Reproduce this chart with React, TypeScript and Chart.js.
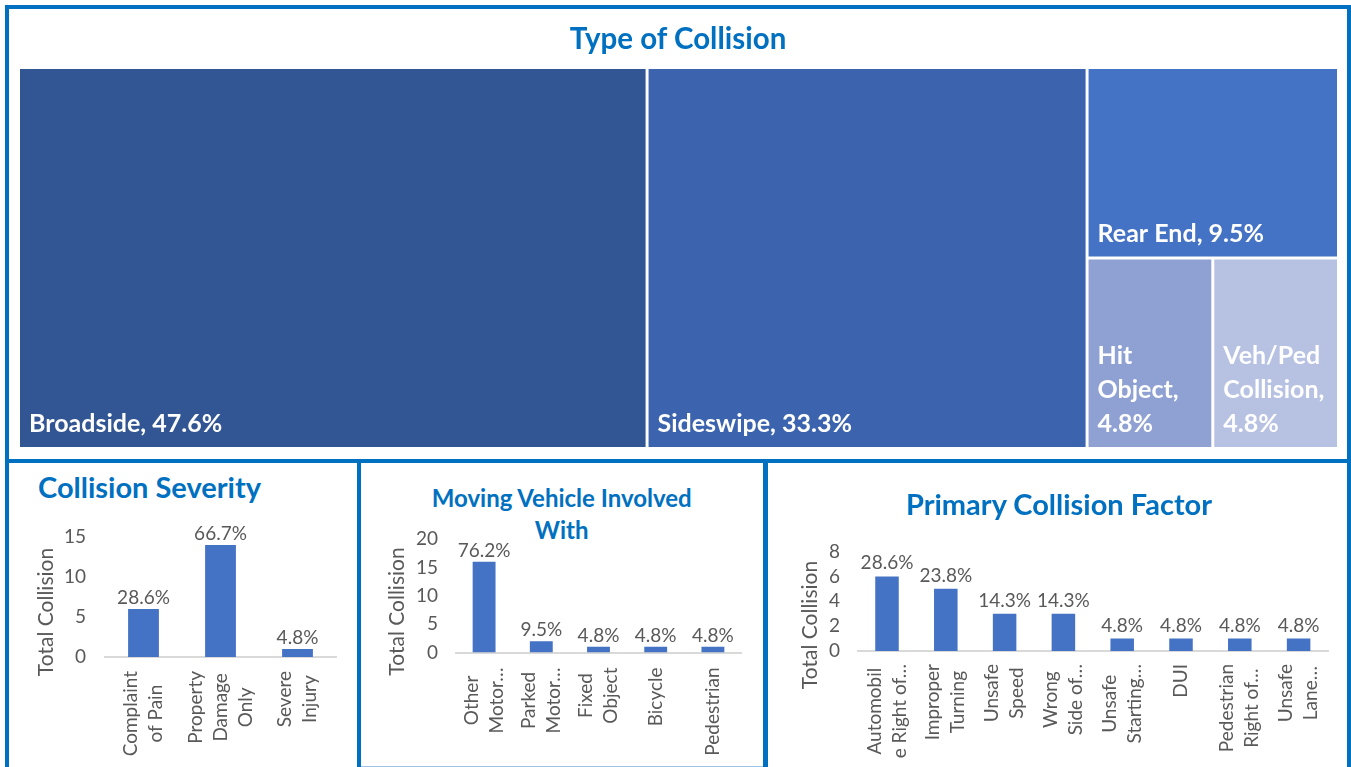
import React, { useEffect, useRef } from "react";
import { Chart, registerables } from "chart.js";

Chart.register(...registerables);

const FONT = "Lato, 'Open Sans', sans-serif";
const TITLE_BLUE = "#0070C0";
const GRAY = "#595959";
const BAR_BLUE = "#4472C4";

// ---------- Data ----------
const collisionTypes = ["Broadside", "Sideswipe", "Rear End", "Hit Object", "Veh/Ped Collision"];
const collisionTypeCounts = [10, 7, 2, 1, 1];
const collisionTypeColors = ["#325593", "#3C63AD", "#4472C4", "#8FA1D2", "#B7C1E2"];

const severityLabels = [["Complaint", "of Pain"], ["Property", "Damage", "Only"], ["Severe", "Injury"]];
const severityCounts = [6, 14, 1];

const movingLabels = [["Other", "Motor…"], ["Parked", "Motor…"], ["Fixed", "Object"], ["Bicycle"], ["Pedestrian"]];
const movingCounts = [16, 2, 1, 1, 1];

const factorLabels = [
  ["Automobil", "e Right of…"],
  ["Improper", "Turning"],
  ["Unsafe", "Speed"],
  ["Wrong", "Side of…"],
  ["Unsafe", "Starting…"],
  ["DUI"],
  ["Pedestrian", "Right of…"],
  ["Unsafe", "Lane…"],
];
const factorCounts = [6, 5, 3, 3, 1, 1, 1, 1];

// ---------- Helpers ----------
function sum(a: number[]) {
  return a.reduce((s, v) => s + v, 0);
}

type R = { x: number; y: number; w: number; h: number };

function worst(row: number[], side: number) {
  const s = sum(row);
  const mx = Math.max(...row);
  const mn = Math.min(...row);
  return Math.max((side * side * mx) / (s * s), (s * s) / (side * side * mn));
}

function squarify(areas: number[], rect: R): R[] {
  const out: R[] = [];
  let r = { ...rect };
  let i = 0;
  while (i < areas.length) {
    const side = Math.min(r.w, r.h);
    const row = [areas[i]];
    let j = i + 1;
    while (j < areas.length && worst([...row, areas[j]], side) <= worst(row, side)) {
      row.push(areas[j]);
      j++;
    }
    const s = sum(row);
    if (r.w >= r.h) {
      const cw = s / r.h;
      let y = r.y;
      for (const a of row) {
        const h = a / cw;
        out.push({ x: r.x, y, w: cw, h });
        y += h;
      }
      r = { x: r.x + cw, y: r.y, w: r.w - cw, h: r.h };
    } else {
      const rh = s / r.w;
      let x = r.x;
      for (const a of row) {
        const w = a / rh;
        out.push({ x, y: r.y, w, h: rh });
        x += w;
      }
      r = { x: r.x, y: r.y + rh, w: r.w, h: r.h - rh };
    }
    i = j;
  }
  return out;
}

function wrapText(ctx: CanvasRenderingContext2D, text: string, maxW: number): string[] {
  const words = text.split(" ");
  const lines: string[] = [];
  let cur = "";
  for (const w of words) {
    const t = cur ? cur + " " + w : w;
    if (cur && ctx.measureText(t).width > maxW) {
      lines.push(cur);
      cur = w;
    } else cur = t;
  }
  if (cur) lines.push(cur);
  return lines;
}

// ---------- Treemap ----------
const treemapPlugin = {
  id: "treemapCells",
  afterDraw(chart: any) {
    const { ctx, chartArea, scales } = chart;
    const aspect = chartArea.width / chartArea.height;
    const total = sum(collisionTypeCounts);
    const areas = collisionTypeCounts.map((v) => (v / total) * aspect);
    const rects = squarify(areas, { x: 0, y: 0, w: aspect, h: 1 });
    const GAP = 1.5;
    ctx.save();
    rects.forEach((r, i) => {
      const x0 = scales.x.getPixelForValue(r.x / aspect) + GAP;
      const x1 = scales.x.getPixelForValue((r.x + r.w) / aspect) - GAP;
      const y0 = scales.y.getPixelForValue(r.y) + GAP;
      const y1 = scales.y.getPixelForValue(r.y + r.h) - GAP;
      ctx.fillStyle = collisionTypeColors[i];
      ctx.fillRect(x0, y0, x1 - x0, y1 - y0);
      const pct = ((collisionTypeCounts[i] / total) * 100).toFixed(1);
      const text = `${collisionTypes[i]}, ${pct}%`;
      ctx.font = `bold 25px ${FONT}`;
      ctx.fillStyle = "#FFFFFF";
      ctx.textAlign = "left";
      ctx.textBaseline = "alphabetic";
      const lines = wrapText(ctx, text, x1 - x0 - 19);
      const LH = 34;
      lines.forEach((l, k) => {
        const by = y1 - 15 - (lines.length - 1 - k) * LH;
        ctx.fillText(l, x0 + 9, by);
      });
    });
    ctx.restore();
  },
};

function Treemap() {
  const ref = useRef<HTMLCanvasElement>(null);
  useEffect(() => {
    const chart = new Chart(ref.current as HTMLCanvasElement, {
      type: "scatter",
      data: { datasets: [{ data: [] }] },
      options: {
        animation: false,
        responsive: false,
        events: [],
        layout: { padding: { left: 9.5, right: 8.5, top: 58.5, bottom: 10.5 } },
        plugins: { legend: { display: false }, tooltip: { enabled: false } },
        scales: {
          x: { type: "linear", min: 0, max: 1, display: false },
          y: { type: "linear", min: 0, max: 1, reverse: true, display: false },
        },
      },
      plugins: [treemapPlugin],
    } as any);
    return () => chart.destroy();
  }, []);
  return (
    <canvas
      ref={ref}
      width={1338}
      height={450}
      style={{ position: "absolute", left: 9, top: 9, width: 1338, height: 450 }}
    />
  );
}

// ---------- Bar panels ----------
type BarProps = {
  labels: string[][];
  counts: number[];
  yMax: number;
  yStep: number;
  box: { left: number; top: number; width: number; height: number };
  yW: number;
  padTop: number;
  padRight: number;
  xH: number;
  tickPad: number;
  titleDx: number;
  titleDy: number;
  labelGap: number;
  valueGap: number;
};

function BarPanel(p: BarProps) {
  const ref = useRef<HTMLCanvasElement>(null);
  useEffect(() => {
    const total = sum(p.counts);
    const LINE = 25;
    const labelPlugin = {
      id: "barTexts",
      afterDatasetsDraw(chart: any) {
        const { ctx, chartArea, scales } = chart;
        const meta = chart.getDatasetMeta(0);
        ctx.save();
        ctx.fillStyle = GRAY;
        ctx.font = `19px ${FONT}`;
        ctx.textAlign = "center";
        ctx.textBaseline = "alphabetic";
        meta.data.forEach((el: any, i: number) => {
          ctx.fillText(`${((p.counts[i] / total) * 100).toFixed(1)}%`, el.x, el.y - p.valueGap);
        });
        ctx.font = `19px ${FONT}`;
        p.labels.forEach((lines, i) => {
          const cx = scales.x.getPixelForValue(i);
          const maxW = Math.max(...lines.map((l) => ctx.measureText(l).width));
          const cy = chartArea.bottom + p.labelGap + maxW / 2;
          lines.forEach((l, j) => {
            const lx = cx + (j - (lines.length - 1) / 2) * LINE;
            ctx.save();
            ctx.translate(lx, cy);
            ctx.rotate(-Math.PI / 2);
            ctx.textAlign = "center";
            ctx.textBaseline = "middle";
            ctx.fillText(l, 0, 0);
            ctx.restore();
          });
        });
        ctx.font = `21px ${FONT}`;
        ctx.save();
        ctx.translate(chartArea.left - p.titleDx, chartArea.bottom - p.titleDy);
        ctx.rotate(-Math.PI / 2);
        ctx.textAlign = "center";
        ctx.textBaseline = "middle";
        ctx.fillText("Total Collision", 0, 0);
        ctx.restore();
        ctx.restore();
      },
    };
    const chart = new Chart(ref.current as HTMLCanvasElement, {
      type: "bar",
      data: {
        labels: p.labels.map((l) => l.join(" ")),
        datasets: [
          {
            data: p.counts,
            backgroundColor: BAR_BLUE,
            barPercentage: 0.4,
            categoryPercentage: 1,
          },
        ],
      },
      options: {
        animation: false,
        responsive: false,
        events: [],
        layout: { padding: { top: p.padTop, right: p.padRight, left: 0, bottom: 0 } },
        plugins: { legend: { display: false }, tooltip: { enabled: false } },
        scales: {
          x: {
            grid: { display: false, drawTicks: false },
            border: { display: true, color: "#D9D9D9", width: 2 },
            ticks: { display: false },
            afterFit: (s: any) => {
              s.height = p.xH;
            },
          },
          y: {
            min: 0,
            max: p.yMax,
            ticks: {
              stepSize: p.yStep,
              autoSkip: false,
              maxTicksLimit: 30,
              color: GRAY,
              font: { family: FONT, size: 19, lineHeight: 1 },
              padding: p.tickPad,
            },
            grid: { display: false, drawTicks: false },
            border: { display: false },
            afterFit: (s: any) => {
              s.width = p.yW;
            },
          },
        },
      },
      plugins: [labelPlugin],
    } as any);
    return () => chart.destroy();
  }, []);
  const b = p.box;
  return (
    <canvas
      ref={ref}
      width={b.width}
      height={b.height}
      style={{ position: "absolute", left: b.left, top: b.top, width: b.width, height: b.height }}
    />
  );
}

// ---------- Layout pieces ----------
function Panel({ left, top, width, height }: { left: number; top: number; width: number; height: number }) {
  return (
    <div
      style={{
        position: "absolute",
        left,
        top,
        width,
        height,
        boxSizing: "border-box",
        border: `4px solid ${TITLE_BLUE}`,
      }}
    />
  );
}

function Title({
  text,
  x,
  baseline,
  fs,
  align,
}: {
  text: string;
  x: number;
  baseline: number;
  fs: number;
  align: "left" | "center";
}) {
  const top = baseline - 0.887 * fs;
  const style: React.CSSProperties = {
    position: "absolute",
    top,
    fontFamily: FONT,
    fontWeight: 700,
    fontSize: fs,
    lineHeight: `${fs}px`,
    color: TITLE_BLUE,
    whiteSpace: "nowrap",
  };
  if (align === "center") {
    style.left = x - 300;
    style.width = 600;
    style.textAlign = "center";
  } else {
    style.left = x;
  }
  return <div style={style}>{text}</div>;
}

export default function App() {
  return (
    <div
      style={{
        position: "absolute",
        left: 0,
        top: 0,
        width: 1351,
        height: 767,
        overflow: "hidden",
        background: "#FFFFFF",
      }}
    >
      <Panel left={5} top={5} width={1346} height={458} />
      <Panel left={5} top={459} width={356} height={330} />
      <Panel left={357} top={459} width={410} height={330} />
      <Panel left={764} top={459} width={587} height={330} />
      <div style={{ position: "absolute", left: 361, top: 766, width: 402, height: 1, background: "#9DC3E6" }} />

      <Treemap />
      <Title text="Type of Collision" x={678} baseline={49} fs={29.5} align="center" />

      <Title text="Collision Severity" x={38} baseline={497.7} fs={29} align="left" />
      <BarPanel
        labels={severityLabels}
        counts={severityCounts}
        yMax={15}
        yStep={5}
        box={{ left: 9, top: 463, width: 348, height: 304 }}
        yW={96}
        padTop={74}
        padRight={21}
        xH={110}
        tickPad={19}
        titleDx={59}
        titleDy={45}
        labelGap={14}
        valueGap={5}
      />

      <div
        style={{
          position: "absolute",
          left: 561.7 - 200,
          width: 400,
          top: 481.5,
          textAlign: "center",
          fontFamily: FONT,
          fontWeight: 700,
          fontSize: 24,
          lineHeight: "32px",
          color: TITLE_BLUE,
        }}
      >
        Moving Vehicle Involved
        <br />
        With
      </div>
      <BarPanel
        labels={movingLabels}
        counts={movingCounts}
        yMax={20}
        yStep={5}
        box={{ left: 361, top: 463, width: 402, height: 300 }}
        yW={94.5}
        padTop={76}
        padRight={21.5}
        xH={110.5}
        tickPad={17.5}
        titleDx={58.5}
        titleDy={41}
        labelGap={15}
        valueGap={5}
      />

      <Title text="Primary Collision Factor" x={1059} baseline={515} fs={29} align="center" />
      <BarPanel
        labels={factorLabels}
        counts={factorCounts}
        yMax={8}
        yStep={2}
        box={{ left: 768, top: 463, width: 579, height: 304 }}
        yW={89.6}
        padTop={88.5}
        padRight={19}
        xH={116}
        tickPad={17.6}
        titleDx={47.6}
        titleDy={26}
        labelGap={13}
        valueGap={7}
      />
    </div>
  );
}
